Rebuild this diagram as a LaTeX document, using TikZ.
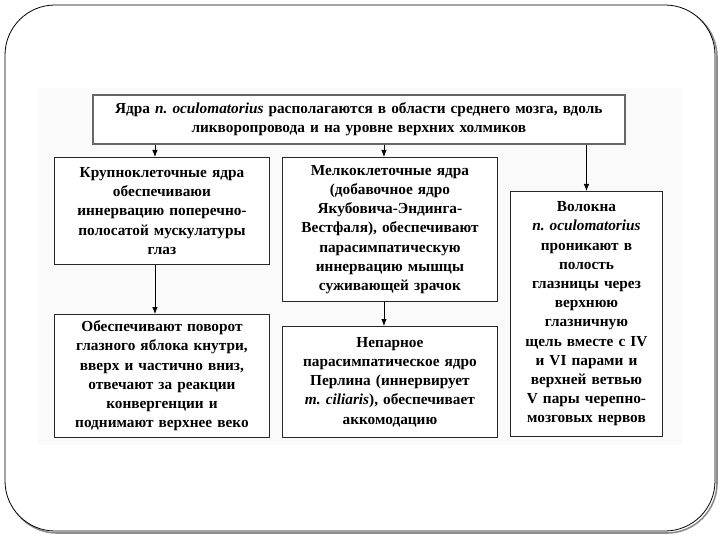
\documentclass[tikz,border=0pt]{standalone}
\usepackage{fontspec}
\setmainfont{Liberation Serif}
\usetikzlibrary{arrows.meta}
\frenchspacing

\begin{document}
\begin{tikzpicture}[x=1pt, y=-1pt,
    box/.style={draw=black!85, line width=0.9, fill=white, align=center, inner xsep=0pt,
        inner ysep=2pt, anchor=north west, font=\bfseries\fontsize{15.3}{19.2}\selectfont},
    link/.style={color=black, line width=0.8, arrows={-{Latex[length=7pt, width=5.5pt]}}}]
    \useasboundingbox (0,0) rectangle (720,540);
    % Define the layers library
    \pgfdeclarelayer{0}
    \pgfdeclarelayer{1}
    \pgfsetlayers{0,1}

    % Layer 0
    \begin{pgfonlayer}{0}
        \draw[color=black!45, line width=1.6, rounded corners=50] (7,7) rectangle (717,533);
        \draw[color=black, line width=0.8, fill=white, rounded corners=50] (5,5) rectangle (715,531);
        \fill[color=black!2] (38,88) rectangle (682,445);
    \end{pgfonlayer}{0}

    % Layer 1
    \begin{pgfonlayer}{1}
        \node[box, draw=black!60, line width=1.6, text width=532, minimum height=49] (top) at ({92}, {94})
            {Ядра \textit{n. oculomatorius} располагаются в области среднего мозга, вдоль\\
             ликворопровода и на уровне верхних холмиков};
        \node[box, text width=215, minimum height=107] (large) at ({54}, {157})
            {Крупноклеточные ядра\\ обеспечиваюи\\ иннервацию поперечно-\\
             полосатой мускулатуры\\ глаз};
        \node[box, text width=215, minimum height=144] (small) at ({282}, {157})
            {Мелкоклеточные ядра\\ (добавочное ядро\\ Якубовича-Эндинга-\\
             Вестфаля), обеспечивают\\ парасимпатическую\\ иннервацию мышцы\\ суживающей зрачок};
        \node[box, text width=152, minimum height=245] (fibres) at ({510}, {191})
            {Волокна\\ \textit{n. oculomatorius}\\ проникают в\\ полость\\ глазницы через\\
             верхнюю\\ глазничную\\ щель вместе с IV\\ и VI парами и\\ верхней ветвью\\
             V пары черепно-\\ мозговых нервов};
        \node[box, text width=215, minimum height=123] (turn) at ({54}, {314})
            {Обеспечивают поворот\\ глазного яблока кнутри,\\ вверх и частично вниз,\\
             отвечают за реакции\\ конвергенции и\\ поднимают верхнее веко};
        \node[box, text width=215, minimum height=111] (perlia) at ({282}, {326})
            {Непарное\\ парасимпатическое ядро\\ Перлина (иннервирует\\
             \textit{m. ciliaris}), обеспечивает\\ аккомодацию};

        \draw[link] ([xshift=-7]large.north |- top.south) to ([xshift=-7]large.north);
        \draw[link] ([xshift=-6]small.north |- top.south) to ([xshift=-6]small.north);
        \draw[link] (fibres.north |- top.south) to (fibres.north);
        \draw[link] ([xshift=-7]large.south) to ([xshift=-7]turn.north);
        \draw[link] ([xshift=-6]small.south) to ([xshift=-6]perlia.north);
    \end{pgfonlayer}{1}
\end{tikzpicture}
\end{document}
